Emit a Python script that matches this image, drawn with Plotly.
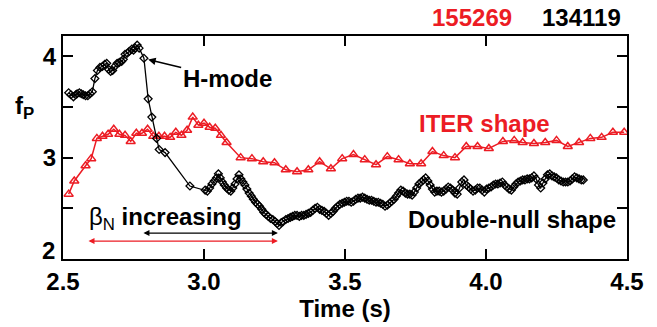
import plotly.graph_objects as go

# ITER-shape discharge 155269 (red triangles)
iter_time = [2.52, 2.54, 2.58, 2.60, 2.62, 2.64, 2.66, 2.68, 2.70, 2.72, 2.74, 2.76, 2.78,
             2.80, 2.82, 2.84, 2.86, 2.88, 2.90, 2.92, 2.94, 2.96, 2.98, 3.00, 3.02, 3.04,
             3.06, 3.08, 3.13, 3.17, 3.21, 3.25, 3.29, 3.33, 3.37, 3.41, 3.45, 3.49, 3.53,
             3.57, 3.61, 3.65, 3.69, 3.73, 3.77, 3.81, 3.85, 3.89, 3.93, 3.97, 4.01, 4.06,
             4.10, 4.13, 4.17, 4.21, 4.25, 4.29, 4.33, 4.37, 4.41, 4.45, 4.49]
iter_fp = [2.64, 2.77, 2.92, 2.99, 3.19, 3.21, 3.23, 3.28, 3.23, 3.22, 3.16, 3.24, 3.24,
           3.28, 3.21, 3.21, 3.21, 3.20, 3.25, 3.22, 3.27, 3.40, 3.32, 3.34, 3.30, 3.29,
           3.22, 3.15, 3.00, 2.99, 2.96, 2.95, 2.88, 2.86, 2.88, 2.96, 2.89, 2.99, 3.03,
           2.98, 2.93, 3.01, 2.98, 2.94, 2.94, 3.06, 3.02, 3.00, 3.11, 3.11, 3.09, 3.16,
           3.17, 3.15, 3.14, 3.15, 3.17, 3.11, 3.15, 3.19, 3.20, 3.25, 3.25]

# Double-null discharge 134119 (black diamonds)
dn_time = [2.520, 2.528, 2.537, 2.545, 2.550, 2.558, 2.565, 2.572, 2.580, 2.588, 2.596, 2.604,
           2.613, 2.622, 2.631, 2.640, 2.648, 2.655, 2.662, 2.669, 2.676, 2.684, 2.692, 2.700,
           2.708, 2.714, 2.720, 2.728, 2.735, 2.744, 2.750, 2.756, 2.763, 2.770, 2.787, 2.802,
           2.815, 2.832, 2.841, 2.862, 2.950, 3.004, 3.012, 3.020, 3.028, 3.036, 3.044, 3.051,
           3.058, 3.065, 3.072, 3.080, 3.088, 3.095, 3.102, 3.110, 3.117, 3.124, 3.131, 3.138,
           3.145, 3.152, 3.160, 3.168, 3.175, 3.183, 3.190, 3.197, 3.205, 3.212, 3.220, 3.228,
           3.236, 3.244, 3.252, 3.260, 3.266, 3.274, 3.281, 3.290, 3.298, 3.306, 3.314, 3.322,
           3.330, 3.338, 3.346, 3.354, 3.362, 3.370, 3.378, 3.386, 3.394, 3.402, 3.410, 3.418,
           3.426, 3.434, 3.442, 3.450, 3.458, 3.466, 3.474, 3.482, 3.490, 3.498, 3.506, 3.514,
           3.522, 3.530, 3.538, 3.546, 3.554, 3.562, 3.570, 3.578, 3.586, 3.594, 3.602, 3.610,
           3.618, 3.626, 3.634, 3.642, 3.650, 3.658, 3.666, 3.674, 3.682, 3.690, 3.698, 3.706,
           3.714, 3.722, 3.730, 3.738, 3.746, 3.754, 3.762, 3.770, 3.778, 3.786, 3.794, 3.802,
           3.810, 3.818, 3.826, 3.834, 3.842, 3.850, 3.858, 3.866, 3.874, 3.882, 3.890, 3.898,
           3.906, 3.914, 3.922, 3.930, 3.938, 3.946, 3.954, 3.962, 3.970, 3.978, 3.986, 3.994,
           4.002, 4.010, 4.018, 4.026, 4.034, 4.042, 4.050, 4.058, 4.066, 4.074, 4.082, 4.090,
           4.098, 4.106, 4.114, 4.122, 4.130, 4.138, 4.146, 4.154, 4.162, 4.170, 4.178, 4.186,
           4.194, 4.202, 4.210, 4.218, 4.226, 4.234, 4.242, 4.250, 4.258, 4.266, 4.274, 4.282,
           4.290, 4.298, 4.306, 4.314, 4.322, 4.330, 4.338, 4.345]
dn_fp = [3.64, 3.62, 3.60, 3.62, 3.63, 3.64, 3.63, 3.62, 3.61, 3.61, 3.63, 3.65,
         3.78, 3.86, 3.89, 3.90, 3.92, 3.93, 3.87, 3.85, 3.86, 3.90, 3.93, 3.94,
         3.95, 3.97, 4.02, 4.03, 4.05, 4.07, 4.06, 4.08, 4.11, 4.08, 3.98, 3.58,
         3.40, 3.19, 3.08, 3.05, 2.72, 2.68, 2.67, 2.70, 2.74, 2.77, 2.80, 2.84,
         2.80, 2.76, 2.73, 2.70, 2.68, 2.67, 2.70, 2.74, 2.79, 2.83, 2.79, 2.76,
         2.73, 2.69, 2.65, 2.62, 2.59, 2.56, 2.54, 2.52, 2.49, 2.46, 2.44, 2.42,
         2.40, 2.39, 2.37, 2.35, 2.33, 2.36, 2.37, 2.39, 2.40, 2.41, 2.42, 2.43,
         2.43, 2.42, 2.43, 2.43, 2.44, 2.45, 2.46, 2.48, 2.50, 2.51, 2.49, 2.48,
         2.47, 2.45, 2.43, 2.45, 2.47, 2.50, 2.52, 2.54, 2.55, 2.56, 2.57, 2.57,
         2.56, 2.57, 2.59, 2.60, 2.60, 2.61, 2.60, 2.59, 2.58, 2.58, 2.57, 2.56,
         2.56, 2.55, 2.54, 2.52, 2.53, 2.55, 2.57, 2.59, 2.62, 2.65, 2.68, 2.67,
         2.65, 2.64, 2.64, 2.63, 2.66, 2.70, 2.74, 2.76, 2.78, 2.80, 2.77, 2.73,
         2.69, 2.66, 2.67, 2.67, 2.66, 2.67, 2.69, 2.71, 2.70, 2.68, 2.65, 2.64,
         2.70, 2.76, 2.78, 2.73, 2.71, 2.69, 2.67, 2.68, 2.70, 2.70, 2.68, 2.66,
         2.69, 2.70, 2.71, 2.73, 2.74, 2.74, 2.75, 2.76, 2.73, 2.71, 2.69, 2.68,
         2.71, 2.74, 2.76, 2.77, 2.78, 2.78, 2.79, 2.79, 2.80, 2.82, 2.79, 2.73,
         2.70, 2.75, 2.79, 2.83, 2.84, 2.82, 2.81, 2.80, 2.78, 2.77, 2.76, 2.76,
         2.76, 2.77, 2.79, 2.81, 2.80, 2.79, 2.78, 2.78]

x_ticks = [2.5, 3.0, 3.5, 4.0, 4.5]
x_tick_text = ["2.5", "3.0", "3.5", "4.0", "4.5"]
y_ticks = [3, 4]            # labelled ticks; "2" is lifted off the corner as an annotation
y_tick_text = ["3", "4"]
y_minor_ticks = [2.5, 3.5]  # unlabelled ticks

RED = "#ec1c24"
BLACK = "#000000"
FONT = "Liberation Sans, Arial, sans-serif"
FS = 24

fig = go.Figure()
fig.add_trace(go.Scatter(
    x=iter_time, y=iter_fp, mode="lines+markers",
    line=dict(color=RED, width=1.5),
    marker=dict(symbol="triangle-up-open", size=8, color=RED, line=dict(width=1.5)),
))
fig.add_trace(go.Scatter(
    x=dn_time, y=dn_fp, mode="lines+markers",
    line=dict(color=BLACK, width=1.3),
    marker=dict(symbol="diamond-open", size=6, color=BLACK, line=dict(width=1.3)),
))

bold = dict(family=FONT, size=FS, color=BLACK)
annotations = [
    # H-mode label with pointer to the transition
    dict(x=2.802, y=3.967, xref="x", yref="y", ax=79, ay=19, axref="pixel", ayref="pixel",
         text="<b>H-mode</b>", showarrow=True, arrowhead=2, arrowsize=1, arrowwidth=1.5,
         arrowcolor=BLACK, font=bold),
    dict(x=3.755, y=3.34, xref="x", yref="y", text="<b>ITER shape</b>", showarrow=False,
         xanchor="left", yanchor="middle", font=dict(family=FONT, size=FS, color=RED)),
    dict(x=3.716, y=2.39, xref="x", yref="y", text="<b>Double-null shape</b>", showarrow=False,
         xanchor="left", yanchor="middle", font=bold),
    dict(x=2.585, y=2.40, xref="x", yref="y", text="β<sub>N</sub> <b>increasing</b>",
         showarrow=False, xanchor="left", yanchor="middle", font=bold),
    # beta_N ramp intervals
    dict(x=3.262, y=2.256, ax=2.78, ay=2.256, xref="x", yref="y", axref="x", ayref="y",
         text="", showarrow=True, arrowhead=2, startarrowhead=2, arrowside="end+start",
         arrowsize=1, arrowwidth=1.2, arrowcolor=BLACK),
    dict(x=3.262, y=2.177, ax=2.585, ay=2.177, xref="x", yref="y", axref="x", ayref="y",
         text="", showarrow=True, arrowhead=2, startarrowhead=2, arrowside="end+start",
         arrowsize=1, arrowwidth=1.2, arrowcolor=RED),
    # lowest y tick label
    dict(x=-0.011, y=2.08, xref="paper", yref="y", text="<b>2</b>", showarrow=False,
         xanchor="right", yanchor="middle", font=bold),
    # y-axis label
    dict(x=-0.068, y=0.68, xref="paper", yref="paper", text="<b>f<sub>P</sub></b>",
         showarrow=False, xanchor="center", yanchor="middle", font=bold),
    # shot numbers
    dict(x=0.8, y=1.0, xref="paper", yref="paper", text="<b>155269</b>", showarrow=False,
         xanchor="right", yanchor="bottom", yshift=3, font=dict(family=FONT, size=FS, color=RED)),
    dict(x=0.993, y=1.0, xref="paper", yref="paper", text="<b>134119</b>", showarrow=False,
         xanchor="right", yanchor="bottom", yshift=3, font=bold),
]

axis_common = dict(
    showline=True, linecolor=BLACK, linewidth=2, mirror="ticks",
    ticks="inside", ticklen=10, tickwidth=1.5, tickcolor=BLACK,
    showgrid=False, zeroline=False,
    tickfont=dict(family=FONT, size=FS, color=BLACK),
)

fig.update_layout(
    width=657, height=327,
    margin=dict(l=63, r=30, t=36, b=68),
    paper_bgcolor="white", plot_bgcolor="white",
    showlegend=False,
    font=dict(family=FONT, color=BLACK),
    annotations=annotations,
    xaxis=dict(range=[2.5, 4.5], tickvals=x_ticks,
               ticktext=["<b>%s</b>" % t for t in x_tick_text],
               title=dict(text="<b>Time (s)</b>", font=bold, standoff=2), **axis_common),
    yaxis=dict(range=[2, 4.2], tickvals=y_ticks,
               ticktext=["<b>%s</b>" % t for t in y_tick_text],
               minor=dict(tickvals=y_minor_ticks, ticks="inside", ticklen=10,
                          tickwidth=1.5, tickcolor=BLACK, showgrid=False),
               **axis_common),
)

fig.write_html("out.html")
